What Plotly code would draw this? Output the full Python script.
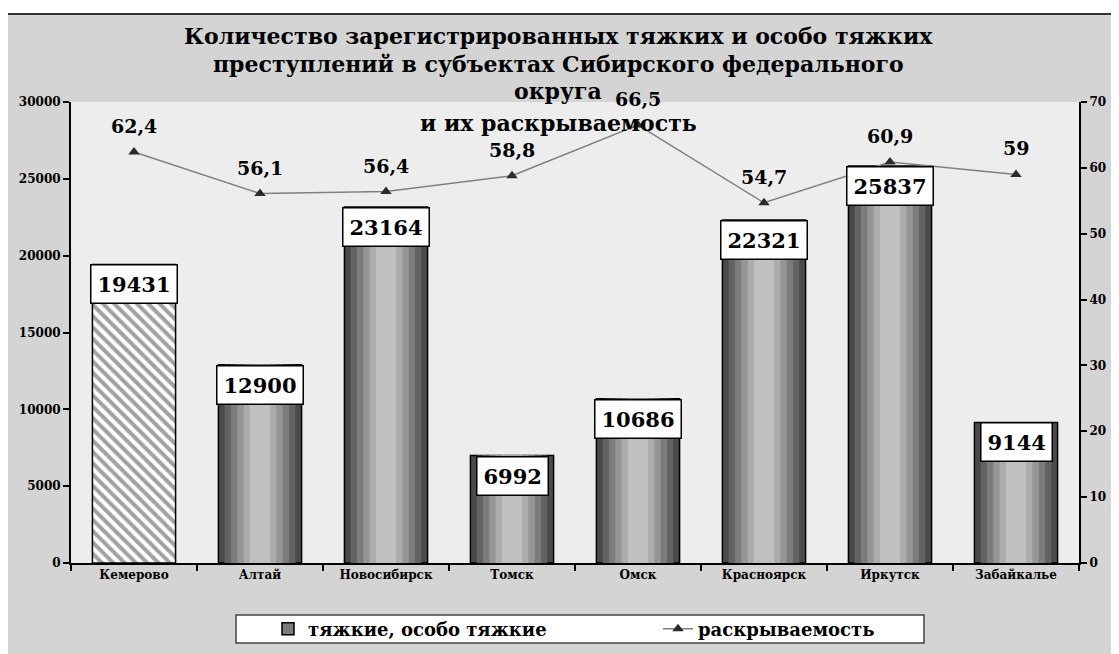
import plotly.graph_objects as go

categories = ["Кемерово", "Алтай", "Новосибирск", "Томск", "Омск", "Красноярск", "Иркутск", "Забайкалье"]
crimes = [19431, 12900, 23164, 6992, 10686, 22321, 25837, 9144]
solved = [62.4, 56.1, 56.4, 58.8, 66.5, 54.7, 60.9, 59]
title_lines = [
    "Количество зарегистрированных тяжких и особо тяжких",
    "преступлений в субъектах Сибирского федерального",
    "округа",
    "и их раскрываемость",
]
left_ticks = [0, 5000, 10000, 15000, 20000, 25000, 30000]
right_ticks = [0, 10, 20, 30, 40, 50, 60, 70]

FONT = "DejaVu Serif"
fig = go.Figure()

# base bar (with outline); first bar hatched
base_colors = ["white"] + ["#4a4a4a"] * (len(crimes) - 1)
shapes_pat = ["\\"] + [""] * (len(crimes) - 1)
fig.add_trace(go.Bar(
    x=categories, y=crimes, width=0.66, name="тяжкие, особо тяжкие",
    marker=dict(color=base_colors, line=dict(color="black", width=1.5),
                pattern=dict(shape=shapes_pat, fgcolor="black", bgcolor="white",
                             size=8, solidity=0.5)),
    yaxis="y", showlegend=False, hoverinfo="x+y",
))
# cylinder shading layers
layers = [(0.56, "#636363"), (0.46, "#7c7c7c"), (0.36, "#959595"),
          (0.26, "#acacac"), (0.16, "#c0c0c0")]
for w, c in layers:
    cols = ["rgba(0,0,0,0)"] + [c] * (len(crimes) - 1)
    fig.add_trace(go.Bar(x=categories, y=crimes, width=w, marker=dict(color=cols, line=dict(width=0)),
                         yaxis="y", showlegend=False, hoverinfo="skip"))

# legend-only entry for the bars
fig.add_trace(go.Bar(x=[None], y=[None], name="тяжкие, особо тяжкие",
                     marker=dict(color="#7c7c7c", line=dict(color="black", width=1.5)),
                     showlegend=True, hoverinfo="skip"))

fig.add_trace(go.Scatter(
    x=categories, y=solved, name="раскрываемость", yaxis="y2",
    mode="lines+markers", line=dict(color="#808080", width=1.5),
    marker=dict(symbol="triangle-up", size=10, color="#2b2b2b"),
))

annotations = []
for c, v in zip(categories, crimes):
    annotations.append(dict(
        x=c, y=v, xref="x", yref="y", yanchor="top", text=f"<b>{v}</b>", showarrow=False,
        font=dict(family=FONT, size=21, color="black"), bgcolor="white",
        bordercolor="black", borderwidth=1.5, borderpad=6,
    ))
for c, v in zip(categories, solved):
    annotations.append(dict(
        x=c, y=v, xref="x", yref="y2", yanchor="bottom", yshift=13,
        text=f"<b>{str(v).replace('.', ',')}</b>", showarrow=False,
        font=dict(family=FONT, size=19, color="black"),
    ))

# page places the figure 8px from the top-left; positions below are in screen pixels
def px_x(p):
    return (p - 71) / 1008

def px_y(p):
    return (563 - p) / 461

title_y = [36, 64, 91, 123]
for t, py in zip(title_lines, title_y):
    annotations.append(dict(
        x=px_x(558), y=px_y(py), xref="paper", yref="paper", xanchor="center", yanchor="middle",
        text=f"<b>{t}</b>", showarrow=False, font=dict(family=FONT, size=22, color="black"),
    ))

shapes = [
    dict(type="rect", xref="paper", yref="paper", x0=px_x(-5), x1=px_x(1130), y0=px_y(14), y1=px_y(-5),
         fillcolor="white", line=dict(width=0), layer="below"),
    dict(type="line", xref="paper", yref="paper", x0=px_x(8), x1=px_x(1130), y0=px_y(14), y1=px_y(14),
         line=dict(color="#333", width=2), layer="below"),
    # legend frame
    dict(type="rect", xref="paper", yref="paper", x0=px_x(236), x1=px_x(924), y0=px_y(643), y1=px_y(615),
         fillcolor="white", line=dict(color="#444", width=1.5), layer="below"),
]

axis_common = dict(showline=True, linecolor="black", linewidth=2, ticks="outside", ticklen=6,
                   tickcolor="black", tickwidth=2, showgrid=False, automargin=False,
                   tickfont=dict(family=FONT, size=12, weight="bold"))

fig.update_layout(
    width=1119, height=654,
    margin=dict(l=63, r=48, t=94, b=99, autoexpand=False),
    paper_bgcolor="#d4d4d4", plot_bgcolor="#ededed",
    barmode="overlay",
    font=dict(family=FONT, color="black"),
    xaxis=dict(tickson="boundaries", **axis_common),
    yaxis=dict(range=[0, 30000], tickvals=left_ticks, tickformat="d", zeroline=False, **axis_common),
    yaxis2=dict(range=[0, 70], tickvals=right_ticks, overlaying="y", side="right", zeroline=False,
                **axis_common),
    legend=dict(orientation="h", x=px_x(268), xanchor="left", y=px_y(629), yanchor="middle",
                bgcolor="rgba(0,0,0,0)", font=dict(family=FONT, size=18, weight="bold"),
                entrywidth=345, entrywidthmode="pixels", traceorder="normal"),
    annotations=annotations, shapes=shapes,
    showlegend=True,
)

fig.write_html("out.html")
